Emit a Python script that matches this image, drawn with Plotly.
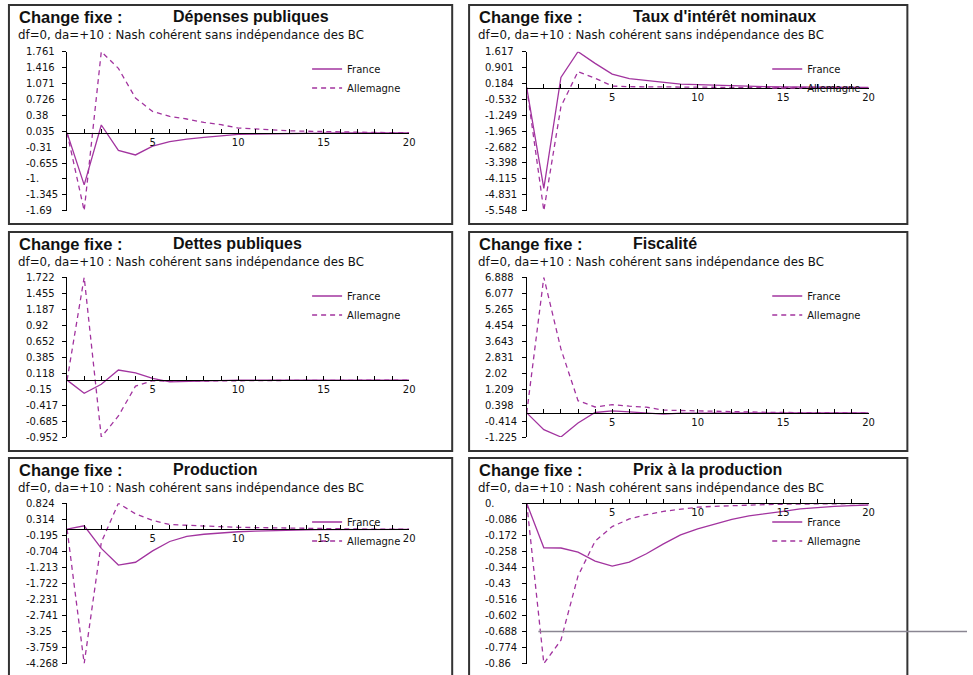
import plotly.graph_objects as go

W, H = 973, 675

# ---------------- data ----------------
periods = list(range(21))
x_tick_labels = ["" if (p % 5 or p == 0) else str(p) for p in periods]

prefix = "Change fixe :"
subtitle = "df=0, da=+10 : Nash cohérent sans indépendance des BC"
series_names = ["France", "Allemagne"]
titles = ["Dépenses publiques", "Taux d'intérêt nominaux", "Dettes publiques",
          "Fiscalité", "Production", "Prix à la production"]

dep_france = [0, -1.13, 0.17, -0.38, -0.48, -0.29, -0.19, -0.135, -0.10, -0.07, -0.035,
              -0.025, -0.018, -0.012, -0.008, -0.005, -0.003, -0.002, -0.001, -0.001, 0]
dep_allemagne = [0, -1.69, 1.761, 1.40, 0.755, 0.465, 0.356, 0.30, 0.226, 0.176, 0.104,
                 0.08, 0.06, 0.045, 0.035, 0.025, 0.018, 0.012, 0.008, 0.005, 0.003]
dep_ticks = ["1.761", "1.416", "1.071", "0.726", "0.38", "0.035", "-0.31", "-0.655", "-1.", "-1.345", "-1.69"]

taux_france = [0, -4.54, 0.46, 1.617, 1.09, 0.61, 0.40, 0.31, 0.22, 0.16, 0.13,
               0.10, 0.08, 0.06, 0.04, 0.03, 0.02, 0.015, 0.01, 0.005, 0.003]
taux_allemagne = [0, -5.548, -0.86, 0.72, 0.42, 0.07, 0.04, 0.03, 0.03, 0.02, 0.02,
                  0.015, 0.01, 0.01, 0.005, 0.005, 0, 0, 0, 0, 0]
taux_ticks = ["1.617", "0.901", "0.184", "-0.532", "-1.249", "-1.965", "-2.682", "-3.398", "-4.115", "-4.831", "-5.548"]

dette_france = [0, -0.22, -0.07, 0.17, 0.12, 0.03, -0.03, -0.02, -0.01, -0.005, 0,
                0, 0, 0, 0, 0, 0, 0, 0, 0, 0]
dette_allemagne = [0, 1.722, -0.952, -0.60, -0.10, -0.01, -0.02, -0.02, -0.015, -0.01, -0.01,
                   -0.008, -0.006, -0.005, -0.004, -0.003, -0.002, -0.001, 0, 0, 0]
dette_ticks = ["1.722", "1.455", "1.187", "0.92", "0.652", "0.385", "0.118", "-0.15", "-0.417", "-0.685", "-0.952"]

fisc_france = [0, -0.85, -1.225, -0.51, 0.02, 0.10, 0.05, 0.0, -0.06, -0.01, 0,
               0, 0, 0, 0, 0, 0, 0, 0, 0, 0]
fisc_allemagne = [0, 6.888, 3.25, 0.62, 0.30, 0.42, 0.34, 0.29, 0.14, 0.12, 0.10,
                  0.06, 0.05, 0.04, 0.03, 0.02, 0.015, 0.01, 0.005, 0.003, 0]
fisc_ticks = ["6.888", "6.077", "5.265", "4.454", "3.643", "2.831", "2.02", "1.209", "0.398", "-0.414", "-1.225"]

prod_france = [0, 0.11, -0.61, -1.14, -1.05, -0.69, -0.39, -0.23, -0.16, -0.11, -0.08,
               -0.06, -0.04, -0.03, -0.02, -0.015, -0.01, -0.007, -0.005, -0.003, -0.002]
prod_allemagne = [0, -4.268, -0.42, 0.824, 0.49, 0.28, 0.15, 0.12, 0.10, 0.08, 0.06,
                  0.05, 0.04, 0.03, 0.02, 0.015, 0.01, 0.008, 0.005, 0.003, 0.002]
prod_ticks = ["0.824", "0.314", "-0.195", "-0.704", "-1.213", "-1.722", "-2.231", "-2.741", "-3.25", "-3.759", "-4.268"]

prix_france = [0, -0.239, -0.24, -0.262, -0.31, -0.337, -0.316, -0.271, -0.218, -0.17, -0.137,
               -0.111, -0.086, -0.068, -0.057, -0.043, -0.03, -0.021, -0.016, -0.012, -0.009]
prix_allemagne = [0, -0.86, -0.735, -0.39, -0.203, -0.125, -0.084, -0.061, -0.043, -0.03, -0.021,
                  -0.016, -0.012, -0.009, -0.007, -0.005, -0.004, -0.003, -0.002, -0.001, -0.001]
prix_ticks = ["0.", "-0.086", "-0.172", "-0.258", "-0.344", "-0.43", "-0.516", "-0.602", "-0.688", "-0.774", "-0.86"]

france_series = [dep_france, taux_france, dette_france, fisc_france, prod_france, prix_france]
allemagne_series = [dep_allemagne, taux_allemagne, dette_allemagne, fisc_allemagne, prod_allemagne, prix_allemagne]
tick_labels = [dep_ticks, taux_ticks, dette_ticks, fisc_ticks, prod_ticks, prix_ticks]

# ---------------- layout geometry (pixels) ----------------
cols = [dict(left=9, right=455, ax0=67.5, ax20=411.7, lab=24),
        dict(left=472, right=913, ax0=530, ax20=874, lab=486)]
rows = [dict(top=5, bottom=224, ytop=51.7, ybot=210.7),
        dict(top=232, bottom=451, ytop=277.3, ybot=437.0),
        dict(top=458, bottom=700, ytop=503.3, ybot=663.5)]

LINE_COLOR = "#a2349f"
TXT = "#111111"
SMALL_FONT = "DejaVu Sans"
TITLE_FONT = "Liberation Sans, Arial, sans-serif"


def px(xp):
    return xp / W


def py(yp):
    return 1 - yp / H


fig = go.Figure()
layout = dict(width=W, height=H, autosize=False,
              margin=dict(l=0, r=0, t=0, b=0),
              paper_bgcolor="white", plot_bgcolor="rgba(0,0,0,0)",
              showlegend=True)
annotations = []
shapes = []

for i in range(6):
    r, c = rows[i // 2], cols[i % 2]
    n = i + 1
    xname = "x" if n == 1 else f"x{n}"
    yname = "y" if n == 1 else f"y{n}"
    xkey = "xaxis" if n == 1 else f"xaxis{n}"
    ykey = "yaxis" if n == 1 else f"yaxis{n}"
    lkey = "legend" if n == 1 else f"legend{n}"

    vals = [float(s) for s in tick_labels[i]]
    ymin, ymax = min(vals), max(vals)
    zero_px = r["ytop"] + (ymax - 0) / (ymax - ymin) * (r["ybot"] - r["ytop"])

    layout[ykey] = dict(domain=[py(r["ybot"]), py(r["ytop"])], range=[ymin, ymax],
                        anchor=xname, showline=True, linecolor="#000", linewidth=1,
                        ticks="outside", ticklen=4, tickcolor="#000", tickwidth=1,
                        tickvals=vals, showticklabels=False, showgrid=False,
                        zeroline=False, fixedrange=True)
    layout[xkey] = dict(domain=[px(c["ax0"]), px(c["ax20"])], range=[0, 20],
                        anchor="free", position=py(zero_px),
                        showline=True, linecolor="#000", linewidth=1,
                        ticks="inside", ticklen=4, tickcolor="#000", tickwidth=1,
                        tickvals=periods, ticktext=x_tick_labels,
                        tickfont=dict(family=SMALL_FONT, size=10, color=TXT),
                        ticklabelstandoff=0,
                        showgrid=False, zeroline=False, fixedrange=True)

    fig.add_trace(go.Scatter(x=periods, y=france_series[i], mode="lines", name=series_names[0],
                             xaxis=xname, yaxis=yname, legend=lkey, cliponaxis=False,
                             line=dict(color=LINE_COLOR, width=1.3)))
    fig.add_trace(go.Scatter(x=periods, y=allemagne_series[i], mode="lines", name=series_names[1],
                             xaxis=xname, yaxis=yname, legend=lkey, cliponaxis=False,
                             line=dict(color=LINE_COLOR, width=1.3, dash="5px,4px")))

    layout[lkey] = dict(x=px(c["left"] + 300), y=py(r["top"] + 49.5), xanchor="left", yanchor="top",
                        bgcolor="rgba(0,0,0,0)", borderwidth=0,
                        font=dict(family=SMALL_FONT, size=10, color=TXT),
                        tracegroupgap=0, itemwidth=30)

    # y tick labels (left aligned, as in the original)
    for v, s in zip(vals, tick_labels[i]):
        annotations.append(dict(x=px(c["lab"]), xref="paper", y=v, yref=yname, text=s,
                                xanchor="left", yanchor="middle", showarrow=False,
                                font=dict(family=SMALL_FONT, size=10, color=TXT)))

    # titles
    annotations.append(dict(x=px(c["left"] + 8), y=py(r["top"] + 11.5), xref="paper", yref="paper",
                            text=f"<b>{prefix}</b>", xanchor="left", yanchor="middle", showarrow=False,
                            font=dict(family=TITLE_FONT, size=16.5, color=TXT)))
    annotations.append(dict(x=px(c["left"] + 163), y=py(r["top"] + 11.5), xref="paper", yref="paper",
                            text=f"<b>{titles[i]}</b>", xanchor="left", yanchor="middle", showarrow=False,
                            font=dict(family=TITLE_FONT, size=16, color=TXT)))
    annotations.append(dict(x=px(c["left"] + 7), y=py(r["top"] + 30), xref="paper", yref="paper",
                            text=subtitle, xanchor="left", yanchor="middle", showarrow=False,
                            font=dict(family=SMALL_FONT, size=11.8, color=TXT)))

    # panel frame
    shapes.append(dict(type="rect", xref="paper", yref="paper",
                       x0=px(c["left"]), x1=px(c["right"]), y0=py(r["bottom"]), y1=py(r["top"]),
                       line=dict(color="#333333", width=2), fillcolor="rgba(0,0,0,0)", layer="below"))

# stray scan line across the last panel
shapes.append(dict(type="line", xref="paper", yref="y6", x0=px(541.7), x1=1.0,
                   y0=float(prix_ticks[8]), y1=float(prix_ticks[8]),
                   line=dict(color="#8a8692", width=1.5)))

layout["annotations"] = annotations
layout["shapes"] = shapes
fig.update_layout(**layout)

fig.write_html("out.html", config={"displayModeBar": False},
               post_script="document.body.style.margin='0';document.body.style.overflow='hidden';")
